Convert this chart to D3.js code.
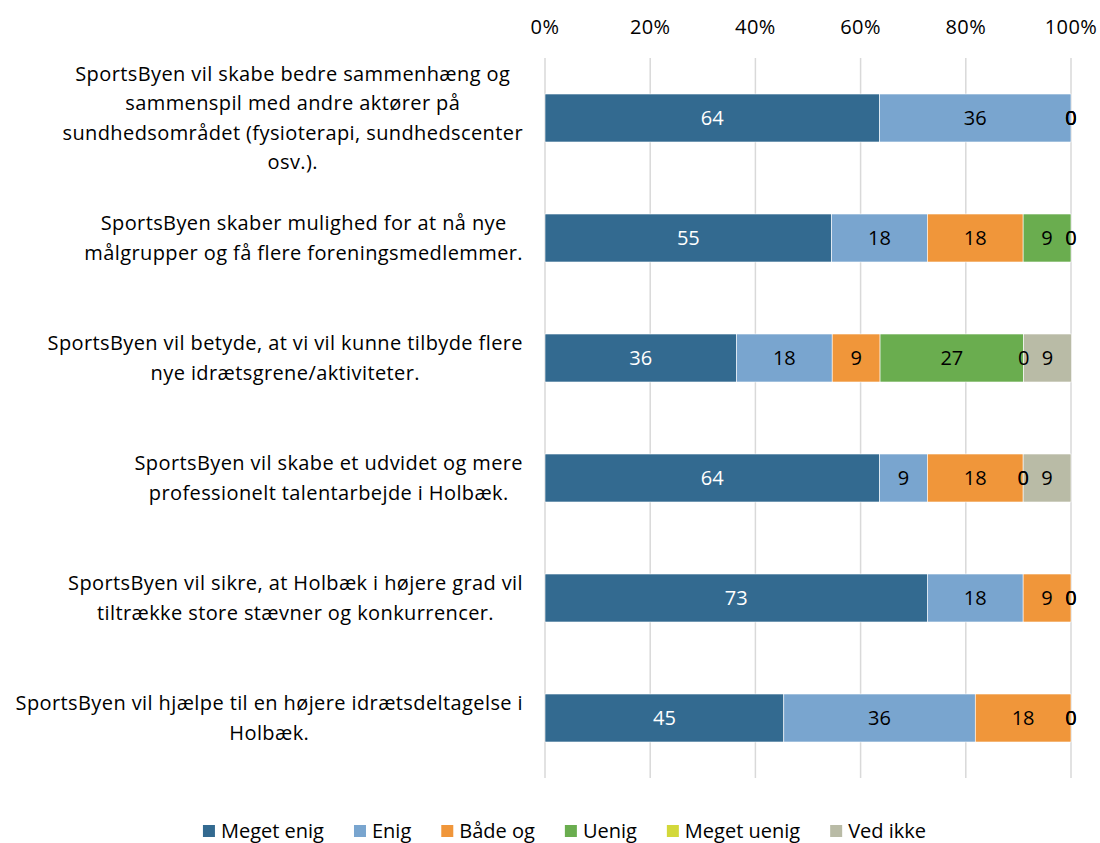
<!DOCTYPE html>
<html>
<head>
<meta charset="utf-8">
<script src="https://d3js.org/d3.v7.min.js"></script>
<style>
  body { margin: 0; background: #fff; }
  text { font-family: "Open Sans", sans-serif; }
</style>
</head>
<body>
<div id="chart"></div>
<script>
'use strict';

// statements, one entry per line of the wrapped label
const statements = [
  ["SportsByen vil skabe bedre sammenhæng og", "sammenspil med andre aktører på", "sundhedsområdet (fysioterapi, sundhedscenter", "osv.)."],
  ["SportsByen skaber mulighed for at nå nye", "målgrupper og få flere foreningsmedlemmer."],
  ["SportsByen vil betyde, at vi vil kunne tilbyde flere", "nye idrætsgrene/aktiviteter."],
  ["SportsByen vil skabe et udvidet og mere", "professionelt talentarbejde i Holbæk."],
  ["SportsByen vil sikre, at Holbæk i højere grad vil", "tiltrække store stævner og konkurrencer."],
  ["SportsByen vil hjælpe til en højere idrætsdeltagelse i", "Holbæk."]
];

const answers = ["Meget enig", "Enig", "Både og", "Uenig", "Meget uenig", "Ved ikke"];
const answerColors = ["#336a90", "#79a5cf", "#f0963a", "#6aad4f", "#d3d83a", "#b9bba6"];

// percentages per answer, same order as statements
const megetEnig  = [63.6, 54.5, 36.4, 63.6, 72.7, 45.4];
const enig       = [36.4, 18.2, 18.2, 9.1, 18.2, 36.4];
const baadeOg    = [0, 18.2, 9.1, 18.2, 9.1, 18.2];
const uenig      = [0, 9.1, 27.3, 0, 0, 0];
const megetUenig = [0, 0, 0, 0, 0, 0];
const vedIkke    = [0, 0, 9.1, 9.1, 0, 0];

const tickValues = [0, 20, 40, 60, 80, 100];

(function() {

  const m = {
    width: 1100,
    height: 843,
    left: 545,
    right: 1071,
    top: 58,
    bottom: 778
  };

  let svg = d3.select('#chart')
    .append('svg')
    .attr('width', m.width)
    .attr('height', m.height);

  let series = [megetEnig, enig, baadeOg, uenig, megetUenig, vedIkke];

  let rows = statements.map((s, i) => {
    let row = { i: i };
    answers.forEach((a, j) => { row[a] = series[j][i]; });
    return row;
  });

  let xScale = d3.scaleLinear()
    .domain([0, 100])
    .range([m.left, m.right]);

  let yScale = d3.scaleBand()
    .domain(d3.range(statements.length))
    .range([m.top, m.bottom])
    .paddingInner(0.6)
    .paddingOuter(0.3);

  let color = d3.scaleOrdinal()
    .domain(answers)
    .range(answerColors);

  drawAxes();

  let layers = d3.stack().keys(answers)(rows);

  svg.selectAll('.layer')
    .data(layers)
    .enter()
    .append('g')
    .attr('class', 'layer')
    .attr('fill', d => color(d.key))
    .selectAll('rect')
    .data(d => d)
    .enter()
    .append('rect')
    .attr('x', d => xScale(d[0]))
    .attr('y', d => yScale(d.data.i))
    .attr('width', d => xScale(d[1]) - xScale(d[0]))
    .attr('height', yScale.bandwidth())
    .attr('stroke', '#fff')
    .attr('stroke-width', 0.6);

  // labels go on top of every bar segment
  let labelData = [];
  layers.forEach(l => l.forEach(p => labelData.push({ p: p, key: l.key })));

  svg.append('g')
    .selectAll('text')
    .data(labelData)
    .enter()
    .append('text')
    .attr('x', d => xScale((d.p[0] + d.p[1]) / 2))
    .attr('y', d => yScale(d.p.data.i) + yScale.bandwidth() / 2)
    .attr('dy', '0.35em')
    .attr('text-anchor', 'middle')
    .style('font-size', '20px')
    .style('fill', d => d.key == "Meget enig" ? '#fff' : '#000')
    .text(d => d3.format('.0f')(d.p[1] - d.p[0]));

  makeLabels();
  makeLegend();

  function drawAxes() {
    svg.append('g')
      .selectAll('line')
      .data(tickValues)
      .enter()
      .append('line')
      .attr('x1', d => xScale(d))
      .attr('x2', d => xScale(d))
      .attr('y1', m.top)
      .attr('y2', m.bottom)
      .attr('stroke', '#d9d9d9')
      .attr('stroke-width', 1.5);

    svg.append('g')
      .selectAll('text')
      .data(tickValues)
      .enter()
      .append('text')
      .attr('x', d => xScale(d))
      .attr('y', 27)
      .attr('dy', '0.35em')
      .attr('text-anchor', 'middle')
      .style('font-size', '20px')
      .style('letter-spacing', '0.4px')
      .style('fill', '#000')
      .text(d => d + '%');
  }

  function makeLabels() {
    let lineH = 29.5;
    statements.forEach((lines, i) => {
      let g = svg.append('g');
      let cy = yScale(i) + yScale.bandwidth() / 2;
      let t0 = cy - (lines.length - 1) * lineH / 2;
      let texts = g.selectAll('text')
        .data(lines)
        .enter()
        .append('text')
        .attr('y', (d, k) => t0 + k * lineH)
        .attr('dy', '0.35em')
        .attr('text-anchor', 'middle')
        .style('font-size', '20px')
        .style('letter-spacing', '0.4px')
        .style('fill', '#000')
        .text(d => d);
      let maxW = d3.max(texts.nodes(), n => n.getComputedTextLength());
      texts.attr('x', 523 - maxW / 2);
    });
  }

  function makeLegend() {
    let legend = svg.append('g');
    let x = 0;
    answers.forEach((a) => {
      let item = legend.append('g').attr('transform', 'translate(' + x + ',0)');
      item.append('rect')
        .attr('x', 0)
        .attr('y', -6)
        .attr('width', 12)
        .attr('height', 12)
        .attr('fill', color(a));
      let t = item.append('text')
        .attr('x', 18)
        .attr('dy', '0.35em')
        .style('font-size', '20px')
        .style('fill', '#000')
        .text(a);
      x += 18 + t.node().getComputedTextLength() + 30;
    });
    let total = x - 30;
    legend.attr('transform', 'translate(' + (564.5 - total / 2) + ',831)');
  }

})();
</script>
</body>
</html>
